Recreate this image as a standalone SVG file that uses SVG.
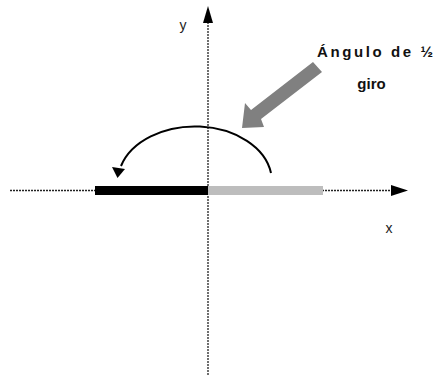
<svg xmlns="http://www.w3.org/2000/svg" width="435" height="376" viewBox="0 0 435 376">
  <style>
    .axis { stroke: #222; stroke-width: 1.3; stroke-dasharray: 2 1; fill: none; }
    .lbl { font-family: "Liberation Sans", Arial, sans-serif; font-size: 14px; fill: #222; }
    .note { font-family: "Liberation Sans", Arial, sans-serif; font-size: 15px; font-weight: bold; fill: #111; }
  </style>
  <rect width="435" height="376" fill="#fff"/>
  <g id="axes">
    <line class="axis" x1="10" y1="190.5" x2="395" y2="190.5"/>
    <polygon points="408,190.5 391,185 391,196" fill="#000"/>
    <line class="axis" x1="208" y1="375" x2="208" y2="20"/>
    <polygon points="208,6 203,23 213,23" fill="#000"/>
    <text class="lbl" x="183" y="30" text-anchor="middle">y</text>
    <text class="lbl" x="389" y="233" text-anchor="middle">x</text>
  </g>
  <g id="bars">
    <rect x="95" y="186" width="113" height="9" fill="#000"/>
    <rect x="208" y="186" width="115" height="9" fill="#bdbdbd"/>
  </g>
  <g id="rotation">
    <path d="M271,173 A77,55 0 0 0 121,166" fill="none" stroke="#000" stroke-width="2"/>
    <polygon points="112,167 125,169 117.5,178" fill="#000"/>
  </g>
  <g id="pointer">
    <polygon points="313,62 322,72 261,119 264,127 242,128 245,103 251,110" fill="#808080"/>
    <text class="note" x="317" y="57" textLength="116" lengthAdjust="spacing">Ángulo de ½</text>
    <text class="note" x="371.5" y="89" text-anchor="middle">giro</text>
  </g>
</svg>
